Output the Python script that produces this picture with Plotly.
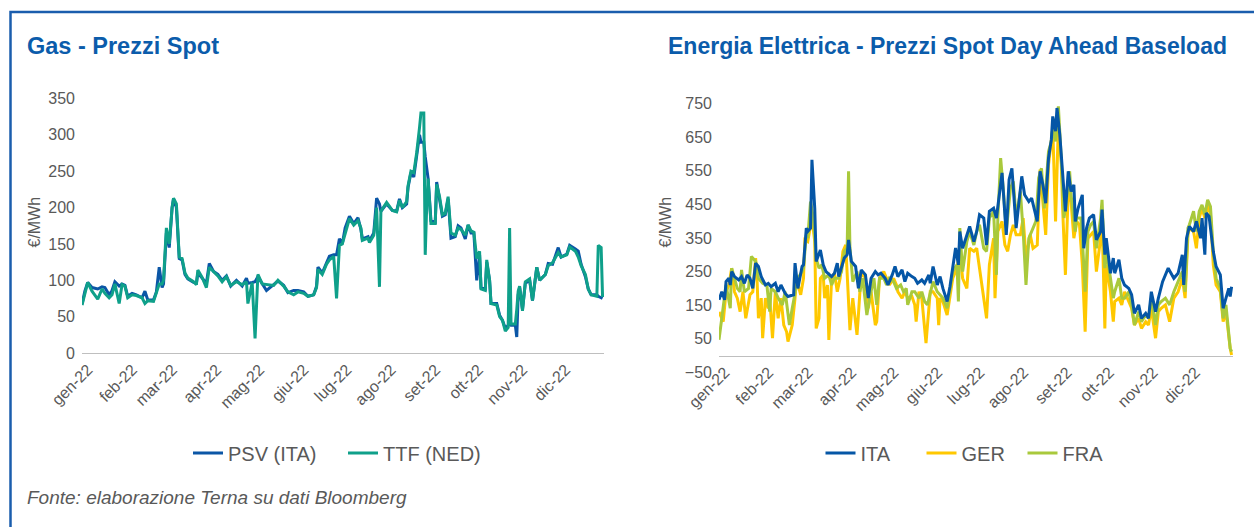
import pandas as pd
import plotly.graph_objects as go

W, H = 1254, 527
START = pd.Timestamp("2022-01-01")

# ---------------- DATA ----------------
mesi = ["gen-22", "feb-22", "mar-22", "apr-22", "mag-22", "giu-22",
        "lug-22", "ago-22", "set-22", "ott-22", "nov-22", "dic-22"]
mesi_inizio = pd.date_range("2022-01-01", periods=12, freq="MS")

# Gas: day of year (0 = 1 Jan 2022), PSV (ITA), TTF (NED) in EUR/MWh
gas_giorno = [0, 2, 4, 7, 11, 14, 16, 19, 21, 23, 26, 28, 30, 32, 35, 38, 42, 44, 46, 50,
              52, 54, 56, 57, 59, 61, 63, 64, 66, 68, 70, 72, 74, 78, 80, 81, 84, 87, 89, 92,
              95, 98, 101, 104, 108, 112, 115, 116, 119, 121, 123, 126, 129, 134, 137, 141, 144, 148, 151, 155,
              158, 162, 164, 165, 168, 171, 173, 176, 178, 180, 182, 184, 187, 190, 193, 195, 196, 200, 201, 204,
              206, 208, 209, 213, 217, 220, 222, 224, 227, 228, 230, 232, 234, 236, 237, 239, 240, 241, 242, 244,
              247, 248, 250, 252, 254, 256, 258, 261, 263, 265, 268, 270, 272, 274, 276, 278, 279, 282, 283, 285,
              286, 290, 292, 294, 296, 298, 299, 300, 303, 304, 305, 306, 308, 310, 313, 315, 318, 320, 324, 326,
              329, 333, 335, 339, 341, 345, 347, 349, 352, 354, 356, 360, 361, 363, 364]
psv = [67, 85, 97, 90, 88, 91, 90, 80, 86, 98, 92, 95, 93, 78, 82, 80, 76, 85, 73, 73,
       84, 118, 90, 95, 165, 145, 200, 212, 200, 130, 128, 108, 102, 97, 96, 110, 103, 96, 123, 112,
       108, 100, 106, 92, 100, 92, 103, 96, 97, 98, 105, 96, 86, 94, 99, 93, 83, 86, 86, 84,
       78, 80, 92, 118, 110, 124, 133, 135, 135, 157, 150, 172, 188, 178, 186, 170, 157, 160, 154, 165,
       213, 205, 195, 205, 196, 195, 212, 200, 205, 228, 248, 242, 275, 300, 290, 290, 270, 250, 240, 182,
       180, 235, 210, 188, 190, 212, 158, 160, 175, 172, 157, 176, 165, 165, 100, 135, 90, 88, 125, 100,
       68, 68, 52, 45, 34, 38, 40, 38, 38, 22, 80, 90, 60, 96, 100, 72, 118, 100, 108, 123,
       122, 145, 132, 136, 148, 143, 140, 122, 105, 88, 80, 80, 78, 76, 75]
ttf = [66, 82, 97, 85, 74, 88, 82, 76, 80, 95, 68, 94, 92, 76, 80, 79, 76, 68, 72, 71,
       82, 95, 95, 100, 172, 150, 200, 213, 205, 132, 130, 110, 103, 98, 94, 114, 104, 90, 118, 112,
       106, 98, 105, 93, 98, 94, 98, 68, 97, 20, 108, 95, 94, 93, 100, 92, 84, 80, 84, 82,
       78, 80, 90, 115, 108, 122, 128, 133, 75, 148, 150, 165, 185, 176, 182, 172, 155, 158, 152, 162,
       200, 91, 195, 207, 196, 194, 210, 200, 208, 230, 250, 248, 275, 310, 330, 330, 135, 200, 240, 178,
       178, 232, 215, 190, 192, 215, 165, 162, 172, 170, 162, 176, 168, 166, 130, 140, 88, 86, 128, 100,
       68, 66, 50, 45, 30, 35, 172, 40, 40, 60, 85, 92, 58, 98, 102, 72, 118, 100, 108, 120,
       124, 138, 132, 135, 146, 140, 132, 120, 108, 88, 80, 78, 148, 145, 77]

# Electricity day-ahead baseload: day of year and EUR/MWh
ita_giorno = [0, 2, 4, 5, 7, 8, 9, 11, 14, 16, 18, 20, 22, 24, 26, 28, 30, 33, 35, 37,
              40, 42, 44, 47, 49, 53, 54, 56, 59, 60, 62, 63, 65, 66, 68, 69, 72, 74, 76, 80,
              82, 84, 85, 87, 89, 91, 92, 94, 97, 99, 101, 104, 106, 108, 111, 113, 115, 118, 120, 123,
              125, 127, 130, 132, 134, 137, 139, 141, 144, 146, 149, 150, 152, 155, 157, 159, 162, 164, 166, 168,
              170, 171, 173, 176, 178, 181, 183, 185, 188, 190, 192, 195, 197, 201, 204, 206, 208, 211, 215, 217,
              220, 222, 224, 226, 228, 230, 232, 234, 236, 237, 239, 240, 242, 244, 246, 248, 250, 252, 253, 255,
              258, 259, 261, 263, 266, 268, 271, 272, 274, 275, 278, 280, 281, 284, 286, 288, 291, 293, 295, 298,
              300, 303, 305, 307, 310, 312, 315, 319, 323, 326, 329, 330, 332, 334, 337, 339, 342, 343, 345, 346,
              348, 351, 353, 356, 358, 360, 362, 363, 364]
ita = [166, 190, 166, 220, 230, 210, 250, 235, 225, 235, 215, 240, 230, 200, 275, 265, 235, 210, 215, 205,
       215, 190, 210, 185, 176, 181, 275, 200, 265, 270, 379, 369, 379, 582, 438, 280, 314, 270, 250, 235,
       245, 275, 235, 260, 290, 300, 344, 280, 265, 200, 255, 240, 171, 230, 250, 240, 245, 230, 210, 240,
       265, 235, 255, 220, 245, 235, 230, 215, 225, 215, 240, 215, 265, 210, 235, 200, 161, 205, 260, 320,
       270, 369, 319, 359, 384, 339, 369, 419, 409, 329, 429, 438, 409, 543, 359, 523, 557, 379, 533, 478,
       458, 468, 429, 399, 548, 508, 453, 587, 642, 711, 667, 736, 657, 538, 429, 548, 488, 508, 399, 438,
       478, 319, 379, 409, 419, 344, 369, 434, 300, 349, 245, 290, 245, 285, 230, 210, 200, 181, 126, 151,
       111, 126, 111, 190, 131, 171, 220, 260, 230, 245, 300, 210, 349, 384, 369, 399, 349, 409, 300, 424,
       414, 310, 265, 240, 141, 171, 200, 176, 205]

ger_giorno = [0, 3, 5, 7, 9, 11, 13, 15, 17, 19, 22, 24, 26, 27, 28, 30, 31, 33, 35, 36,
              38, 40, 42, 44, 46, 48, 49, 52, 54, 55, 58, 60, 61, 63, 66, 68, 69, 71, 72, 74,
              75, 77, 78, 80, 82, 84, 86, 88, 90, 92, 93, 95, 97, 98, 99, 101, 104, 106, 108, 111,
              112, 114, 117, 119, 121, 124, 126, 127, 130, 132, 134, 137, 139, 140, 142, 144, 146, 147, 150, 152,
              155, 156, 157, 159, 162, 164, 166, 169, 171, 173, 176, 178, 181, 183, 185, 187, 190, 192, 195, 196,
              198, 201, 203, 205, 207, 209, 211, 214, 216, 218, 221, 223, 226, 228, 230, 232, 234, 236, 237, 239,
              241, 243, 244, 246, 248, 250, 252, 254, 256, 258, 260, 262, 264, 266, 268, 271, 272, 274, 275, 278,
              280, 281, 284, 286, 288, 291, 293, 295, 298, 300, 303, 305, 307, 310, 312, 314, 317, 320, 323, 326,
              329, 331, 333, 334, 337, 339, 341, 343, 345, 347, 349, 351, 353, 356, 358, 360, 362, 363, 364]
ger = [130, 101, 190, 210, 260, 190, 171, 131, 190, 111, 181, 190, 290, 230, 111, 171, 52, 171, 141, 171,
       52, 190, 111, 171, 91, 71, 42, 91, 171, 230, 181, 230, 344, 339, 409, 339, 81, 111, 230, 240,
       171, 210, 47, 230, 245, 190, 230, 310, 329, 166, 76, 171, 91, 62, 121, 250, 230, 141, 190, 91,
       101, 230, 250, 230, 210, 230, 210, 190, 171, 190, 171, 176, 151, 101, 190, 171, 71, 37, 190, 190,
       171, 91, 171, 161, 121, 171, 230, 260, 310, 230, 200, 319, 310, 319, 260, 210, 111, 270, 349, 171,
       369, 399, 329, 310, 359, 389, 359, 359, 409, 290, 359, 319, 329, 553, 458, 359, 567, 632, 677, 399,
       686, 577, 438, 240, 488, 458, 349, 399, 389, 270, 71, 349, 359, 369, 250, 349, 409, 81, 270, 190,
       101, 161, 171, 151, 190, 161, 141, 91, 111, 81, 101, 91, 141, 52, 131, 141, 151, 101, 171, 190,
       230, 171, 359, 379, 369, 319, 409, 438, 409, 448, 419, 270, 210, 190, 101, 131, 52, 22, 2]

fra_giorno = [0, 4, 5, 8, 9, 11, 13, 15, 16, 18, 21, 23, 26, 28, 31, 34, 36, 37, 40, 42,
              45, 47, 49, 50, 52, 54, 56, 59, 60, 62, 63, 65, 67, 69, 71, 73, 75, 78, 80, 82,
              85, 87, 89, 91, 92, 93, 95, 98, 100, 102, 105, 107, 110, 112, 114, 117, 119, 121, 124, 126,
              129, 131, 133, 134, 137, 139, 142, 144, 146, 148, 150, 152, 155, 157, 159, 162, 164, 166, 169, 170,
              171, 173, 176, 178, 181, 183, 185, 188, 190, 192, 195, 197, 198, 200, 202, 204, 207, 209, 211, 214,
              216, 218, 220, 223, 225, 227, 229, 231, 234, 236, 237, 239, 241, 243, 245, 247, 249, 250, 253, 254,
              257, 258, 260, 262, 264, 266, 268, 271, 272, 274, 275, 278, 280, 281, 284, 286, 288, 291, 293, 295,
              298, 300, 303, 305, 307, 310, 312, 314, 317, 320, 323, 326, 329, 331, 333, 334, 337, 339, 341, 343,
              345, 347, 349, 351, 353, 356, 358, 360, 362, 363, 364]
fra = [47, 190, 210, 141, 260, 230, 200, 190, 255, 190, 200, 295, 280, 230, 215, 210, 131, 200, 190, 171,
       151, 190, 131, 91, 141, 181, 230, 250, 260, 359, 349, 458, 409, 290, 260, 270, 230, 240, 210, 230,
       230, 250, 310, 320, 548, 320, 220, 250, 190, 230, 121, 171, 230, 151, 230, 230, 210, 230, 220, 200,
       210, 190, 200, 151, 190, 190, 171, 190, 161, 151, 190, 220, 190, 181, 171, 141, 190, 250, 270, 161,
       379, 250, 339, 369, 329, 369, 389, 319, 310, 409, 429, 240, 409, 587, 488, 369, 498, 518, 409, 488,
       369, 210, 349, 379, 399, 528, 557, 438, 607, 637, 677, 637, 741, 587, 409, 468, 548, 478, 369, 409,
       409, 349, 190, 369, 389, 399, 319, 409, 463, 260, 310, 230, 171, 190, 230, 171, 171, 190, 151, 91,
       131, 101, 121, 111, 171, 91, 151, 161, 171, 151, 190, 220, 250, 190, 379, 389, 429, 369, 429, 448,
       419, 463, 443, 310, 230, 200, 111, 151, 62, 22, 12]

# ---------------- STYLE ----------------
BLUE_TITLE = "#0B5CAB"
GREY_TXT = "#595959"
AXIS_GREY = "#BFBFBF"
FONT = "Liberation Sans"
C_PSV, C_TTF = "#0B56A6", "#0FA08A"
C_ITA, C_GER, C_FRA = "#0556A6", "#FFC800", "#A9C93C"


def to_dates(days):
    return START + pd.to_timedelta(days, unit="D")


def px_x(p):
    return p / W


def px_y(p):
    return 1 - p / H


fig = go.Figure()

# Gas
fig.add_trace(go.Scatter(x=to_dates(gas_giorno), y=psv, name="PSV (ITA)", mode="lines",
                         line=dict(color=C_PSV, width=3), xaxis="x", yaxis="y", legend="legend"))
fig.add_trace(go.Scatter(x=to_dates(gas_giorno), y=ttf, name="TTF (NED)", mode="lines",
                         line=dict(color=C_TTF, width=3), xaxis="x", yaxis="y", legend="legend"))

# Electricity (ITA drawn last, listed first in legend)
fig.add_trace(go.Scatter(x=to_dates(ger_giorno), y=ger, name="GER", mode="lines",
                         line=dict(color=C_GER, width=3), xaxis="x2", yaxis="y2",
                         legend="legend2", legendrank=2))
fig.add_trace(go.Scatter(x=to_dates(fra_giorno), y=fra, name="FRA", mode="lines",
                         line=dict(color=C_FRA, width=3), xaxis="x2", yaxis="y2",
                         legend="legend2", legendrank=3))
fig.add_trace(go.Scatter(x=to_dates(ita_giorno), y=ita, name="ITA", mode="lines",
                         line=dict(color=C_ITA, width=3), xaxis="x2", yaxis="y2",
                         legend="legend2", legendrank=1))

tickfont = dict(family=FONT, size=16, color=GREY_TXT)
xcommon = dict(type="date", range=["2022-01-01", "2023-01-01"], tickmode="array",
               tickvals=mesi_inizio, ticktext=mesi, tickangle=-45, showgrid=False,
               zeroline=False, showline=True, linecolor=AXIS_GREY, linewidth=1.3,
               ticks="", tickfont=tickfont, ticklabelshift=6, fixedrange=True, automargin=False)
ycommon = dict(showgrid=False, zeroline=False, showline=False, ticks="",
               tickfont=tickfont, ticklabelstandoff=6, fixedrange=True, automargin=False)

y2_dom = [px_y(372.5), px_y(103.3)]
y2_range = [-50, 750]
zero_pos = y2_dom[0] + (0 - y2_range[0]) / (y2_range[1] - y2_range[0]) * (y2_dom[1] - y2_dom[0])

legfont = dict(family=FONT, size=20, color=GREY_TXT)

fig.update_layout(
    template="none",
    width=W, height=H, margin=dict(l=0, r=0, t=0, b=0, pad=0, autoexpand=False),
    paper_bgcolor="white", plot_bgcolor="white",
    font=dict(family=FONT, color=GREY_TXT),
    xaxis=dict(domain=[px_x(82), px_x(604)], anchor="y", **xcommon),
    yaxis=dict(domain=[px_y(353), px_y(98.5)], anchor="x", range=[0, 350],
               tickmode="array", tickvals=[0, 50, 100, 150, 200, 250, 300, 350], **ycommon),
    xaxis2=dict(domain=[px_x(719), px_x(1233)], anchor="free", position=zero_pos, **xcommon),
    yaxis2=dict(domain=y2_dom, anchor="x2", range=y2_range, tickmode="array",
                tickvals=[-50, 50, 150, 250, 350, 450, 550, 650, 750], **ycommon),
    legend=dict(orientation="h", x=px_x(343), xanchor="center", y=px_y(453), yanchor="middle",
                font=legfont, bgcolor="rgba(0,0,0,0)", entrywidth=110, entrywidthmode="pixels"),
    legend2=dict(orientation="h", x=px_x(972), xanchor="center", y=px_y(453), yanchor="middle",
                 font=legfont, bgcolor="rgba(0,0,0,0)", entrywidth=56, entrywidthmode="pixels"),
    showlegend=True,
)

# Frame (top and left blue border)
fig.add_shape(type="path", xref="paper", yref="paper",
              path=f"M {px_x(10.5)},0 L {px_x(10.5)},{px_y(12)} L 1,{px_y(12)}",
              line=dict(color="#1A5DAD", width=2.5))

# Titles, axis titles, source
fig.add_annotation(text="<b>Gas - Prezzi Spot</b>", x=px_x(25), y=px_y(46), xref="paper", yref="paper",
                   xanchor="left", yanchor="middle", showarrow=False,
                   font=dict(family=FONT, size=23.5, color=BLUE_TITLE))
fig.add_annotation(text="<b>Energia Elettrica - Prezzi Spot Day Ahead Baseload</b>", x=px_x(666),
                   y=px_y(46), xref="paper", yref="paper", xanchor="left", yanchor="middle",
                   showarrow=False, font=dict(family=FONT, size=23, color=BLUE_TITLE))
for cx in (34, 665):
    fig.add_annotation(text="€/MWh", x=px_x(cx), y=px_y(222.5), xref="paper", yref="paper",
                       textangle=-90, showarrow=False, xanchor="center", yanchor="middle",
                       font=dict(family=FONT, size=16, color=GREY_TXT))
fig.add_annotation(text="<i>Fonte: elaborazione Terna su dati Bloomberg</i>", x=px_x(25), y=px_y(497),
                   xref="paper", yref="paper", xanchor="left", yanchor="middle", showarrow=False,
                   font=dict(family=FONT, size=19, color=GREY_TXT))

fig.write_html("out.html", config={"displayModeBar": False},
               post_script="document.body.style.margin='0';")
